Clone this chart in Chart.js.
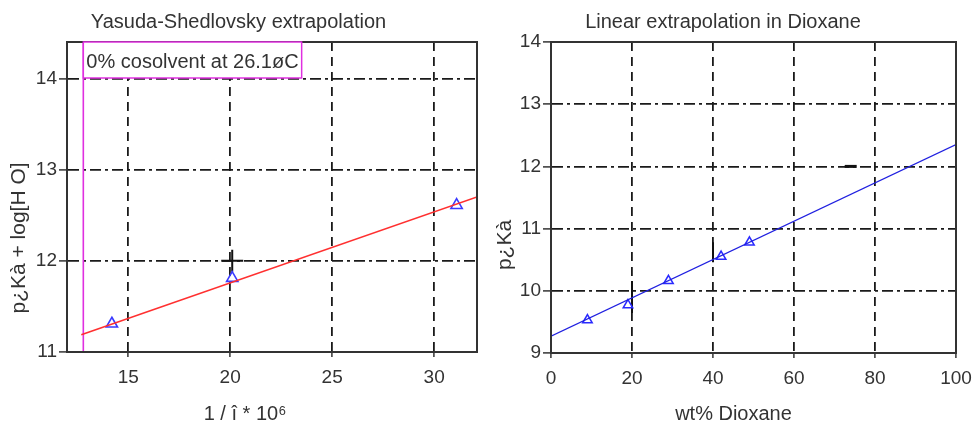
<!DOCTYPE html>
<html>
<head>
<meta charset="utf-8">
<script src="https://cdn.jsdelivr.net/npm/chart.js@4/dist/chart.umd.min.js"></script>
<style>
  body { margin: 0; background: #fff; }
  .box { position: absolute; top: 0; height: 425px; }
</style>
</head>
<body>
<div class="box" style="left:0;width:490px"><canvas id="leftChart" width="490" height="425"></canvas></div>
<div class="box" style="left:490px;width:487px"><canvas id="rightChart" width="487" height="425"></canvas></div>
<script>
// Yasuda-Shedlovsky panel
const ysX = [14.2, 20.1, 31.1];
const ysY = [11.31, 11.81, 12.61];
const ysFitX = [12.7, 32.1];
const ysFitY = [11.19, 12.70];
const cosolventX = 12.8;
const ysXTicks = [15, 20, 25, 30];
const ysYTicks = [11, 12, 13, 14];
const ysCross = [{ x: 20.1, y: 12.0 }];

// Dioxane panel
const dxX = [9, 19, 29, 42, 49];
const dxY = [9.53, 9.77, 10.16, 10.55, 10.78];
const dxFitX = [0, 100];
const dxFitY = [9.27, 12.35];
const dxXTicks = [0, 20, 40, 60, 80, 100];
const dxYTicks = [9, 10, 11, 12, 13, 14];

const FONT = "'Liberation Sans', Arial, sans-serif";

function pairs(xs, ys) {
    return xs.map((x, i) => ({ x: x, y: ys[i] }));
}

// full black frame round the plot area
const framePlugin = {
    id: 'frame',
    afterDatasetsDraw(chart) {
        const a = chart.chartArea;
        const ctx = chart.ctx;
        ctx.save();
        ctx.strokeStyle = '#333';
        ctx.lineWidth = 2;
        ctx.strokeRect(a.left, a.top, a.right - a.left, a.bottom - a.top);
        ctx.restore();
    }
};

// axis titles, placed like the original (centred on the panel, not the axis)
function axisTitles(xText, yText, yTitleX, yTitleY) {
    return {
        id: 'axisTitles',
        afterDraw(chart) {
            const ctx = chart.ctx;
            ctx.save();
            ctx.fillStyle = '#333';
            ctx.textAlign = 'center';
            ctx.textBaseline = 'middle';
            ctx.font = '20px ' + FONT;
            ctx.fillText(xText, chart.width / 2, 414);
            ctx.translate(yTitleX, yTitleY);
            ctx.rotate(-Math.PI / 2);
            ctx.font = '21px ' + FONT;
            ctx.fillText(yText, 0, 0);
            ctx.restore();
        }
    };
}

// magenta label box in the left panel
const labelPlugin = {
    id: 'cosolventLabel',
    afterDatasetsDraw(chart) {
        const ctx = chart.ctx;
        const a = chart.chartArea;
        const x0 = chart.scales.x.getPixelForValue(cosolventX);
        ctx.save();
        ctx.font = '20px ' + FONT;
        const text = '0% cosolvent at 26.1øC';
        const w = ctx.measureText(text).width + 6;
        ctx.fillStyle = '#fff';
        ctx.fillRect(x0, a.top, w, 36);
        ctx.strokeStyle = '#e030e0';
        ctx.lineWidth = 1.5;
        ctx.strokeRect(x0, a.top, w, 36);
        ctx.fillStyle = '#333';
        ctx.textBaseline = 'middle';
        ctx.fillText(text, x0 + 3, a.top + 20);
        ctx.restore();
    }
};

function axisOpts(min, max, ticks, opts) {
    return {
        type: 'linear',
        min: min,
        max: max,
        afterBuildTicks: s => { s.ticks = ticks.map(v => ({ value: v })); },
        afterFit: opts.fit,
        border: { display: true, color: '#333', width: 2, dash: opts.dash },
        grid: {
            color: '#1a1a1a',
            lineWidth: 1.8,
            tickBorderDash: [],
            tickLength: opts.tickLength,
            tickColor: '#333',
            tickWidth: 1.5
        },
        ticks: {
            color: '#333',
            font: { family: FONT, size: 19 },
            padding: opts.tickPad,
            autoSkip: false,
            maxRotation: 0
        }
    };
}

function baseOptions(titleText, padRight, scales) {
    return {
        responsive: false,
        animation: false,
        devicePixelRatio: 1,
        layout: { padding: { left: 0, right: padRight, top: 4, bottom: 0 } },
        plugins: {
            legend: { display: false },
            tooltip: { enabled: false },
            title: {
                display: true,
                text: titleText,
                color: '#333',
                font: { family: FONT, size: 20, weight: 'normal' },
                padding: { top: 6, bottom: 8 }
            }
        },
        scales: scales
    };
}

new Chart(document.getElementById('leftChart'), {
    type: 'scatter',
    data: {
        datasets: [
            {
                label: 'fit',
                data: pairs(ysFitX, ysFitY),
                showLine: true,
                borderColor: '#ff3030',
                borderWidth: 1.6,
                pointRadius: 0
            },
            {
                label: 'cosolvent',
                data: [{ x: cosolventX, y: 11 }, { x: cosolventX, y: 14.4 }],
                showLine: true,
                borderColor: '#e030e0',
                borderWidth: 1.6,
                pointRadius: 0
            },
            {
                label: 'data',
                data: pairs(ysX, ysY),
                pointStyle: 'triangle',
                pointRadius: 6.5,
                borderColor: '#3a3aff',
                backgroundColor: 'rgba(0,0,0,0)',
                borderWidth: 1.6
            },
            {
                label: 'cross',
                data: ysCross,
                pointStyle: 'cross',
                pointRadius: 11,
                borderColor: '#111',
                borderWidth: 2
            }
        ]
    },
    options: baseOptions('Yasuda-Shedlovsky extrapolation', 13, {
        x: axisOpts(12, 32.1, ysXTicks, {
            fit: s => { s.height = 73; s.paddingLeft = 0; s.paddingRight = 0; },
            dash: [9, 6], tickLength: 5, tickPad: 9
        }),
        y: axisOpts(11, 14.4, ysYTicks, {
            fit: s => { s.width = 67; }, dash: [11, 4, 3, 4], tickLength: 8, tickPad: 2
        })
    }),
    plugins: [framePlugin, labelPlugin, axisTitles('1 / î * 10⁶', 'p¿Kà + log[H O]', 19, 238)]
});

new Chart(document.getElementById('rightChart'), {
    type: 'scatter',
    data: {
        datasets: [
            {
                label: 'fit',
                data: pairs(dxFitX, dxFitY),
                showLine: true,
                borderColor: '#2020e0',
                borderWidth: 1.3,
                pointRadius: 0
            },
            {
                label: 'data',
                data: pairs(dxX, dxY),
                pointStyle: 'triangle',
                pointRadius: 5.5,
                borderColor: '#2a2aff',
                backgroundColor: 'rgba(0,0,0,0)',
                borderWidth: 1.5
            },
            {
                label: 'marks',
                data: [{ x: 20, y: 9.9 }, { x: 40, y: 10.62 }],
                pointStyle: 'line',
                rotation: 90,
                pointRadius: [16, 10],
                borderColor: '#111',
                borderWidth: 2
            },
            {
                label: 'dash',
                data: [{ x: 74, y: 12.0 }],
                pointStyle: 'line',
                pointRadius: 6,
                borderColor: '#111',
                borderWidth: 3
            }
        ]
    },
    options: baseOptions('Linear extrapolation in Dioxane', 21, {
        x: axisOpts(0, 100, dxXTicks, {
            fit: s => { s.height = 72; s.paddingLeft = 0; s.paddingRight = 0; },
            dash: [9, 6], tickLength: 5, tickPad: 9
        }),
        y: axisOpts(9, 14, dxYTicks, {
            fit: s => { s.width = 61; }, dash: [11, 4, 3, 4], tickLength: 8, tickPad: 2
        })
    }),
    plugins: [framePlugin, axisTitles('wt% Dioxane', 'p¿Kà', 15, 245)]
});
</script>
</body>
</html>
